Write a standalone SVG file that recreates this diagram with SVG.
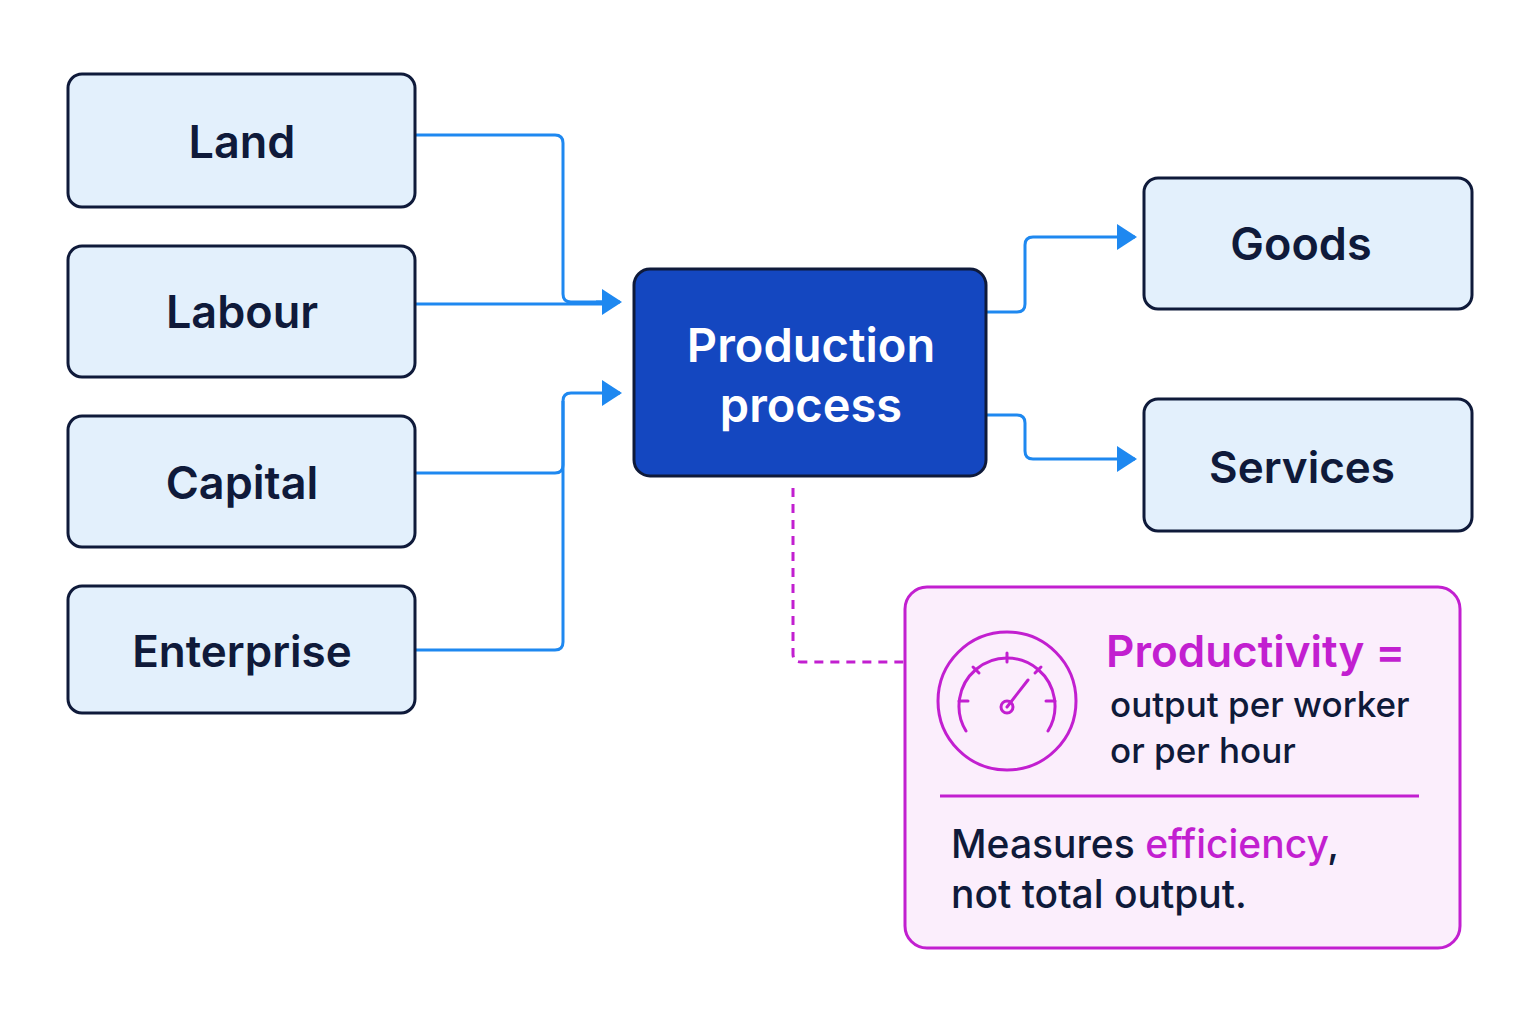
<svg xmlns="http://www.w3.org/2000/svg" width="1536" height="1024" viewBox="0 0 1536 1024">
<style>
.box{fill:#e3f0fc;stroke:#0f1a3a;stroke-width:3}
.lbl{font-family:Inter,"Noto Sans",sans-serif;font-weight:600;font-size:45px;fill:#0f1a3a;text-anchor:middle}
.con{fill:none;stroke:#1e88f0;stroke-width:3;stroke-linejoin:round}
.mag{fill:none;stroke:#c21fd0;stroke-width:3;stroke-linecap:round}
</style>
<defs>
<marker id="ah" viewBox="0 0 10 13" refX="9" refY="6.5" markerWidth="20" markerHeight="26" markerUnits="userSpaceOnUse" orient="auto">
<path d="M0,0 L10,6.5 L0,13 z" fill="#1e88f0"/>
</marker>
</defs>
<rect width="1536" height="1024" fill="#fff"/>
<g id="connectors">
<path class="con" d="M415,135 H555 Q563,135 563,143 V294 Q563,302 571,302 H603"/>
<path class="con" d="M415,304 H603"/>
<path class="con" d="M596,302 H620" marker-end="url(#ah)"/>
<path class="con" d="M415,473 H555 Q563,473 563,465 V401 Q563,393 571,393 H620" marker-end="url(#ah)"/>
<path class="con" d="M415,650 H555 Q563,650 563,642 V401"/>
<path class="con" d="M986,312 H1017 Q1025,312 1025,304 V245 Q1025,237 1033,237 H1135" marker-end="url(#ah)"/>
<path class="con" d="M986,415 H1017 Q1025,415 1025,423 V451 Q1025,459 1033,459 H1135" marker-end="url(#ah)"/>
<path d="M793,488 V654 Q793,662 801,662 H905" fill="none" stroke="#c21fd0" stroke-width="3" stroke-dasharray="9,7"/>
</g>
<g id="land"><rect class="box" x="68" y="74" width="347" height="133" rx="14"/><text class="lbl" x="242" y="158">Land</text></g>
<g id="labour"><rect class="box" x="68" y="246" width="347" height="131" rx="14"/><text class="lbl" x="242" y="328">Labour</text></g>
<g id="capital"><rect class="box" x="68" y="416" width="347" height="131" rx="14"/><text class="lbl" x="242" y="499">Capital</text></g>
<g id="enterprise"><rect class="box" x="68" y="586" width="347" height="127" rx="14"/><text class="lbl" x="242" y="667" style="font-size:44px">Enterprise</text></g>
<g id="production"><rect x="634" y="269" width="352" height="207" rx="16" fill="#1447c0" stroke="#0f1a3a" stroke-width="3"/>
<text class="lbl" x="811" y="362" style="fill:#fff;font-size:47px">Production</text>
<text class="lbl" x="811" y="422" style="fill:#fff;font-size:47px">process</text></g>
<g id="goods"><rect class="box" x="1144" y="178" width="328" height="131" rx="14"/><text class="lbl" x="1301" y="260">Goods</text></g>
<g id="services"><rect class="box" x="1144" y="399" width="328" height="132" rx="14"/><text class="lbl" x="1302" y="483" style="font-size:44px">Services</text></g>
<g id="productivity">
<rect x="905" y="587" width="555" height="361" rx="22" fill="#fbeefc" stroke="#c21fd0" stroke-width="3"/>
<circle class="mag" cx="1007" cy="701" r="69"/>
<path class="mag" d="M966,731 A48,48 0 1 1 1048,731"/>
<g class="mag">
<line x1="959" y1="701" x2="968" y2="701"/><line x1="1046" y1="701" x2="1055" y2="701"/>
<line x1="973" y1="667" x2="979" y2="673"/><line x1="1041" y1="667" x2="1035" y2="673"/>
<line x1="1007" y1="653" x2="1007" y2="662"/>
<line x1="1007" y1="707" x2="1028" y2="680"/>
</g>
<circle class="mag" cx="1007" cy="707" r="6" fill="#fbeefc"/>
<text x="1106" y="667" style="font-family:Inter,'Noto Sans',sans-serif;font-weight:600;font-size:44px;fill:#c21fd0">Productivity =</text>
<text x="1110" y="717" style="font-family:Inter,'Noto Sans',sans-serif;font-weight:500;font-size:35px;fill:#0f1a3a">output per worker</text>
<text x="1110" y="763" style="font-family:Inter,'Noto Sans',sans-serif;font-weight:500;font-size:35px;fill:#0f1a3a">or per hour</text>
<line x1="940" y1="796" x2="1419" y2="796" stroke="#c21fd0" stroke-width="3"/>
<text x="951" y="858" style="font-family:Inter,'Noto Sans',sans-serif;font-weight:500;font-size:39px;fill:#0f1a3a">Measures <tspan fill="#c21fd0">efficiency</tspan>,</text>
<text x="951" y="908" style="font-family:Inter,'Noto Sans',sans-serif;font-weight:500;font-size:39px;fill:#0f1a3a">not total output.</text>
</g>
</svg>
